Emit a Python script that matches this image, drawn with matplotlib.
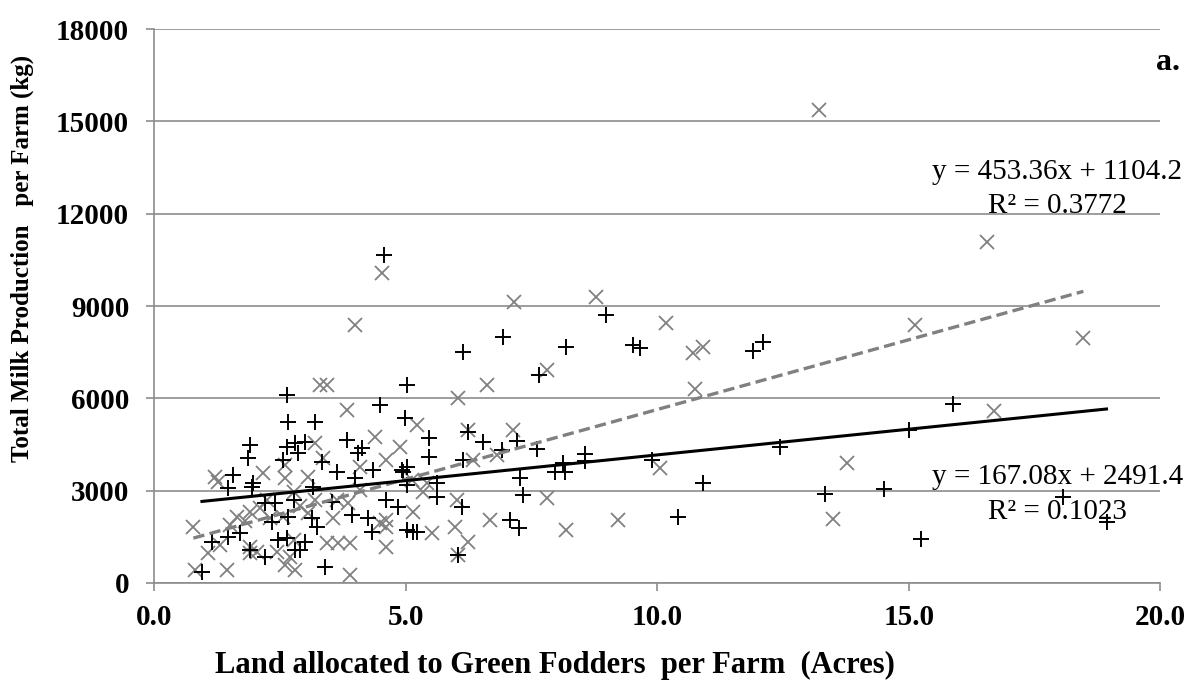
import matplotlib
matplotlib.use("Agg")
import matplotlib.pyplot as plt
import numpy as np

plt.rcParams['font.family'] = ['Liberation Serif', 'DejaVu Serif']

# series 1: black plus markers (solid trend line)
plus_x = [0.95, 1.15, 1.47, 1.71, 1.47, 1.95, 2.2, 2.4, 2.35, 1.91, 2.2, 2.47,
          1.91, 1.87, 1.57, 1.97, 2.64, 2.66, 2.64, 2.57,
          4.49, 5.03, 3.2, 4.99, 3.84, 4.14, 4.06, 2.8, 3.0, 2.86, 3.34, 3.64, 4.35, 5.03, 4.95, 4.0,
          3.16, 3.54, 4.6, 4.85, 5.03, 2.77, 2.66, 3.14, 3.24, 3.94, 4.25, 4.33, 5.03, 5.15, 2.64, 3.0, 2.8, 2.9, 3.4,
          6.14, 6.24, 6.54, 7.22, 6.92, 7.61, 8.13, 7.97, 8.17, 8.57, 8.57, 9.9, 7.28, 7.34, 10.42, 7.08, 7.26,
          6.04, 6.12, 5.63, 5.63, 5.23, 4.93, 5.47, 5.47, 6.14, 6.94, 8.19, 8.99, 9.52, 9.66, 7.64, 4.56,
          11.9, 12.1, 12.43, 10.9, 13.34, 14.5, 15.0, 15.25, 15.88, 18.07, 18.93]
plus_y = [360, 1330, 1500, 1620, 3080, 3120, 2600, 2600, 1980, 1070, 850, 1400,
          4480, 4060, 3510, 3250, 6100, 5230, 4420, 4000,
          5790, 6430, 5230, 5360, 4650, 4390, 4220, 4550, 4580, 4220, 3930, 3610, 3670, 3770, 3610, 3410,
          3120, 2630, 2700, 2470, 3190, 2700, 2150, 2110, 1820, 2210, 2110, 1660, 1720, 1660, 1460, 1330, 1070, 1070, 520,
          4000, 4910, 4580, 4620, 4320, 4350, 3900, 3600, 3600, 4200, 3950, 4000, 3410, 2860, 2150, 2050, 1790,
          910, 2470, 3250, 2800, 1660, 3670, 4710, 4100, 7500, 8000, 7670, 8710, 7730, 7630, 6760, 10660,
          7540, 7830, 4420, 3250, 2890, 3055, 4970, 1430, 5818, 2800, 1980]

# series 2: grey cross markers (dashed trend line)
cross_x = [0.78, 0.82, 1.45, 1.07, 1.31, 1.91, 1.65, 1.91, 2.1, 2.25, 1.91, 2.05, 2.57, 1.27, 2.45,
           1.21, 2.17, 2.6, 1.5, 1.8, 2.3, 2.9, 3.2,
           3.3, 3.44, 3.84, 4.39, 3.2, 4.89, 2.6, 3.36, 3.06, 4.6, 5.13, 4.1,
           4.1, 3.64, 3.86, 2.77, 3.06, 3.56, 4.49, 4.6, 5.15, 3.44, 3.66, 3.9, 4.6, 2.7, 2.8, 3.9, 2.77, 2.6,
           4.52, 4.0, 7.16, 8.79, 10.18, 10.72, 10.9, 7.8, 6.62, 6.04, 5.23, 6.24, 7.14, 6.82, 6.34,
           10.06, 7.81, 9.22, 8.19, 6.68, 5.98, 5.53, 6.24, 6.04, 6.02, 5.35, 4.6, 5.43, 10.76,
           13.22, 16.56, 15.13, 18.47, 16.7, 13.78, 13.5]
cross_y = [1820, 420, 420, 970, 1240, 1170, 2150, 2300, 2440, 2700, 970, 1000, 2150, 3280, 1000,
           3450, 3580, 3410, 1900, 2000, 2100, 2500, 2700,
           6430, 6430, 5620, 4750, 4550, 4420, 3830, 4060, 3450, 4000, 3350, 3770,
           3020, 2700, 2600, 2960, 2280, 2110, 1950, 1820, 2310, 1300, 1300, 1300, 1170, 850, 420, 260, 1400, 590,
           10070, 8390, 9130, 9300, 8450, 7475, 7670, 6920, 6430, 6010, 5130, 4970, 4970, 4160, 4000,
           3740, 2760, 2050, 1720, 2050, 1820, 1620, 1330, 910, 2700, 2960, 2050, 3250, 6300,
           15370, 11080, 8390, 7960, 5590, 3900, 2070]

# trend line coefficients as printed on the chart
plus_slope, plus_icept, plus_r2 = 167.08, 2491.4, 0.1023
cross_slope, cross_icept, cross_r2 = 453.36, 1104.2, 0.3772

fig = plt.figure(figsize=(11.95, 6.94), dpi=100)
ax = fig.add_axes([0.129, 0.160, 0.842, 0.798])

ax.plot(cross_x, cross_y, linestyle='none', marker='x', color='#808080',
        markersize=9.5, markeredgewidth=1.3, zorder=3)
ax.plot(plus_x, plus_y, linestyle='none', marker='+', color='black',
        markersize=11, markeredgewidth=1.4, zorder=3)

xc = np.array([min(cross_x), max(cross_x)])
ax.plot(xc, cross_slope * xc + cross_icept, color='#808080', lw=2.4,
        dashes=(3.4, 1.6), zorder=4)
xp = np.array([min(plus_x), max(plus_x)])
ax.plot(xp, plus_slope * xp + plus_icept, color='black', lw=2.2, zorder=4)

ax.set_xlim(0, 20)
ax.set_ylim(0, 18000)
ax.set_xticks(np.arange(0, 20.1, 5))
ax.set_xticklabels([f'{v:.1f}' for v in np.arange(0, 20.1, 5)])
ax.set_yticks(np.arange(0, 18001, 3000))

ax.grid(axis='y', color='#8c8c8c', lw=1.2)
ax.set_axisbelow(True)
for s in ['top', 'right']:
    ax.spines[s].set_visible(False)
for s in ['left', 'bottom']:
    ax.spines[s].set_color('#8c8c8c')
    ax.spines[s].set_linewidth(1.2)
ax.tick_params(axis='both', direction='out', length=6, width=1.2, color='#8c8c8c',
               labelsize=21)
ax.tick_params(axis='y', pad=12)
ax.tick_params(axis='x', pad=9)
for lab in ax.get_xticklabels() + ax.get_yticklabels():
    lab.set_fontweight('bold')

fig.text(22 / 1195, 1 - 258 / 694, 'Total Milk Production   per Farm (kg)',
         rotation=90, ha='center', va='center', fontsize=18, fontweight='bold')
fig.text(555 / 1195, 1 - 665 / 694, 'Land allocated to Green Fodders  per Farm  (Acres)',
         ha='center', va='center', fontsize=22, fontweight='bold')
fig.text(1168 / 1195, 1 - 62 / 694, 'a.', ha='center', va='center',
         fontsize=23, fontweight='bold')

ax.text(17.95, 13360, f'y = {cross_slope}x + {cross_icept}', ha='center', va='center', fontsize=21)
ax.text(17.95, 12250, f'R² = {cross_r2}', ha='center', va='center', fontsize=21)
ax.text(17.95, 3445, f'y = {plus_slope}x + {plus_icept}', ha='center', va='center', fontsize=21,
        clip_on=False)
ax.text(17.95, 2300, f'R² = {plus_r2}', ha='center', va='center', fontsize=21)

fig.savefig('out.png', dpi=100)
